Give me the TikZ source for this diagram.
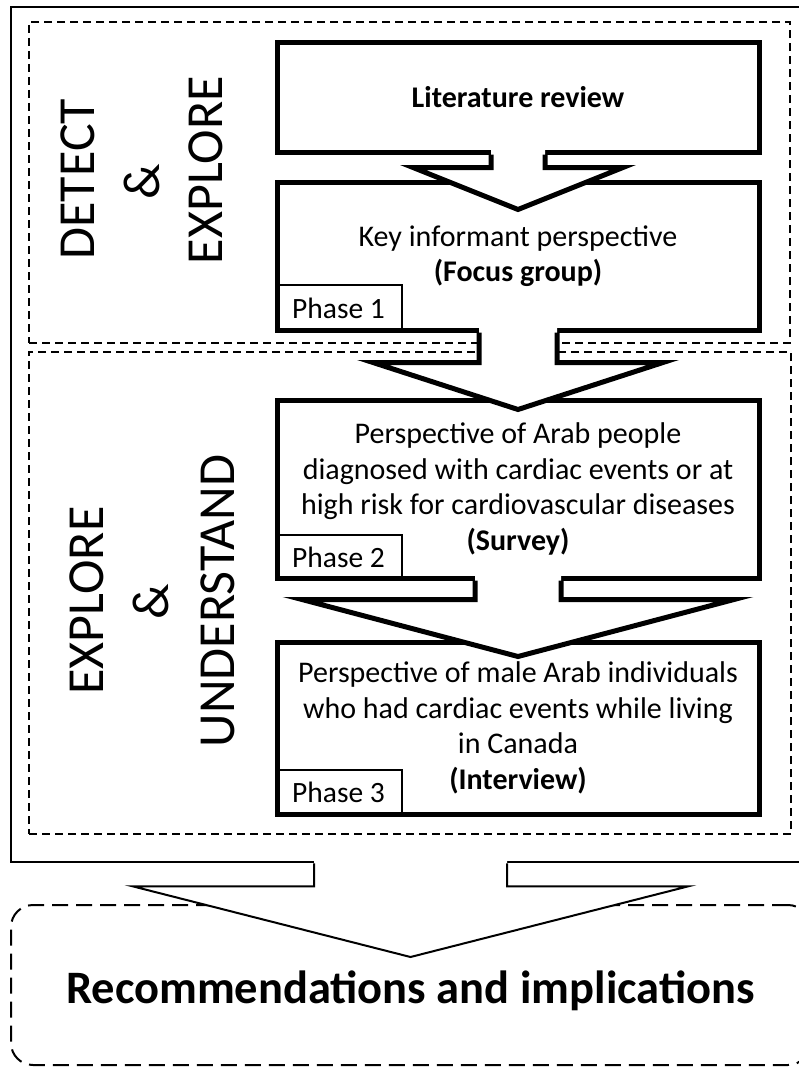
\documentclass[tikz,border=0pt]{standalone}
\usepackage{fontspec}
\setmainfont{Carlito}
\usetikzlibrary{calc}
\tikzset{
  mainbox/.style={draw, line width=5pt, fill=white, inner sep=0pt, align=center, minimum width=482pt, font=\fontsize{30}{35.5}\selectfont},
  phasebox/.style={draw, line width=2pt, inner sep=0pt, minimum width=126pt, anchor=south west, font=\fontsize{29.5}{35}\selectfont},
  dashbox/.style={draw, line width=2pt, dash pattern=on 8pt off 5pt, inner sep=0pt},
  outerbox/.style={draw, line width=2.5pt, inner sep=0pt},
  recbox/.style={draw, line width=2pt, dash pattern=on 16pt off 8pt, rounded corners=22pt, inner sep=0pt},
  stagetext/.style={rotate=90, inner sep=0pt, font=\fontsize{52}{60}\selectfont},
  rectext/.style={inner sep=0pt, font=\bfseries\fontsize{46.5}{55}\selectfont},
  thickarrow/.style={line width=5pt},
  thinarrow/.style={line width=2pt}
}
% #1 style, #2 from node, #3 to node, #4 stem half width, #5 shoulder drop, #6 head half width, #7 tip depth into target
\newcommand{\blockarrow}[7]{%
  \coordinate (ba-s) at (#2.south);
  \coordinate (ba-t) at ($(#2.south |- #3.north)+(0,#7)$);
  \fill[white] ($(ba-s)+(-#4,-5)$) -- ($(ba-s)+(-#4,#5)$) -- ($(ba-s)+(-#6,#5)$) -- (ba-t) -- ($(ba-s)+(#6,#5)$) -- ($(ba-s)+(#4,#5)$) -- ($(ba-s)+(#4,-5)$) -- cycle;
  \draw[#1] ($(ba-s)+(-#4,0)$) -- ($(ba-s)+(-#4,#5)$) -- ($(ba-s)+(-#6,#5)$) -- (ba-t) -- ($(ba-s)+(#6,#5)$) -- ($(ba-s)+(#4,#5)$) -- ($(ba-s)+(#4,0)$);
}
\begin{document}
\begin{tikzpicture}[x=1pt,y=-1pt]
\useasboundingbox[fill=white] (0,0) rectangle (799,1068);
% containers
\node[outerbox, minimum width=799pt, minimum height=855pt] (outer) at (410.5,434.5) {};
\node[recbox, minimum width=799pt, minimum height=160pt] (rec) at (410.5,985) {};
\node[dashbox, minimum width=761pt, minimum height=321pt] (stage1) at (409.5,182.5) {};
\node[dashbox, minimum width=762pt, minimum height=482pt] (stage2) at (410,593) {};
% stage titles
\node[stagetext] (t1a) at (78,179) {DETECT};
\node[stagetext] (t1b) at (142,182) {\&};
\node[stagetext] (t1c) at (206,170) {EXPLORE};
\node[stagetext] (t2a) at (86.5,600.5) {EXPLORE};
\node[stagetext] (t2b) at (151,602) {\&};
\node[stagetext] (t2c) at (217.5,601) {UNDERSTAND};
% main boxes
\node[mainbox, minimum height=110pt] (lit) at (518,97) {\textbf{Literature review}};
\node[mainbox, minimum height=148pt] (key) at (518,256) {Key informant perspective\\\textbf{(Focus group)}};
\node[mainbox, minimum height=178pt] (survey) at (518,489) {Perspective of Arab people\\diagnosed with cardiac events or at\\high risk for cardiovascular diseases\\\textbf{(Survey)}};
\node[mainbox, minimum height=172pt] (interview) at (518,728) {Perspective of male Arab individuals\\who had cardiac events while living\\in Canada\\\textbf{(Interview)}};
% phase labels
\node[phasebox, minimum height=47pt] (p1) at (key.south west) {Phase 1};
\node[phasebox, minimum height=45pt] (p2) at (survey.south west) {Phase 2};
\node[phasebox, minimum height=46pt] (p3) at (interview.south west) {Phase 3};
% arrows
\blockarrow{thickarrow}{lit}{key}{27}{13}{105}{30}
\blockarrow{thickarrow}{key}{survey}{39}{30}{145}{12}
\blockarrow{thickarrow}{survey}{interview}{43}{19}{216}{17}
\blockarrow{thinarrow}{outer}{rec}{96.5}{23}{278}{53}
% conclusion text
\node[rectext] (rectxt) at ($(rec.center)+(0,6)$) {Recommendations and implications};
\end{tikzpicture}
\end{document}
